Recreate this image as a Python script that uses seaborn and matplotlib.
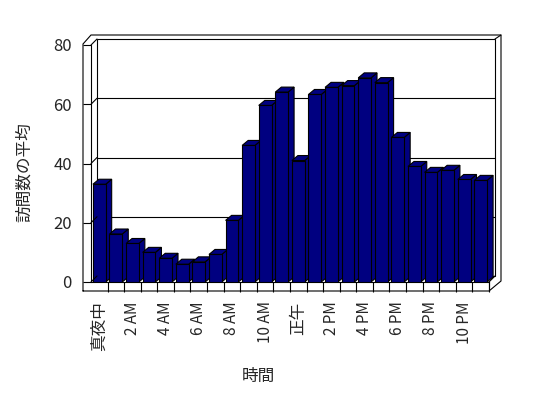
import numpy as np
import pandas as pd
import matplotlib
matplotlib.use("Agg")
import matplotlib.pyplot as plt
import seaborn as sns
from matplotlib.patches import Polygon, Rectangle
from matplotlib.lines import Line2D
from matplotlib.transforms import ScaledTranslation, IdentityTransform

# ---- data ----
hours = ["真夜中", "1 AM", "2 AM", "3 AM", "4 AM", "5 AM", "6 AM", "7 AM",
         "8 AM", "9 AM", "10 AM", "11 AM", "正午", "1 PM", "2 PM", "3 PM",
         "4 PM", "5 PM", "6 PM", "7 PM", "8 PM", "9 PM", "10 PM", "11 PM"]
visits = [33.0, 16.2, 13.0, 10.0, 8.0, 6.0, 6.8, 9.3,
          20.8, 46.1, 59.6, 64.1, 41.0, 63.3, 65.7, 66.3,
          68.9, 67.3, 48.8, 39.0, 37.0, 37.7, 34.6, 34.3]
yticks = [0, 20, 40, 60, 80]
xlabel = "時間"
ylabel = "訪問数の平均"

sns.set_style("white")
plt.rcParams["font.family"] = ["Noto Sans CJK JP", "DejaVu Sans"]

W, H = 548, 398
fig = plt.figure(figsize=(W / 100, H / 100), dpi=100)
fig.patch.set_facecolor("white")

AX_L, AX_R, AX_T, AX_B = 91, 489, 45, 282
ax = fig.add_axes([AX_L / W, 1 - AX_B / H, (AX_R - AX_L) / W, (AX_B - AX_T) / H])
ax.patch.set_visible(False)

df = pd.DataFrame({"hour": hours, "visits": visits})
NAVY = "#000080"
LW = 0.8
sns.barplot(data=df, x="hour", y="visits", order=hours, color=NAVY,
            saturation=1, width=0.77, edgecolor="black", linewidth=LW, ax=ax)
bars = list(ax.patches)
ax.set_xlim(-0.5, len(hours) - 0.5)
ax.set_ylim(yticks[0], yticks[-1])

def off(dx, dy):
    return ScaledTranslation(dx / 100, dy / 100, fig.dpi_scale_trans)

# back wall with gridlines (offset in depth)
back = ax.transData + off(6, 6)
ax.add_patch(Rectangle((-0.5, yticks[0]), len(hours), yticks[-1] - yticks[0],
                       transform=back, fc="white", ec="black", lw=LW,
                       zorder=0.5, clip_on=False))
ax.hlines(yticks[1:-1], -0.5, len(hours) - 0.5, transform=back,
          colors="black", lw=LW, zorder=0.6, clip_on=False)

# 3D faces of bars
p0 = ax.transData.transform((0, 0))
ppx = ax.transData.transform((1, 0))[0] - p0[0]
ppy = ax.transData.transform((0, 1))[1] - p0[1]
ddx, ddy = 6 / ppx, 5 / ppy
for i, p in enumerate(bars):
    x0, w, h = p.get_x(), p.get_width(), p.get_height()
    z = 3 + i * 0.01
    side = Polygon([(x0 + w, 0), (x0 + w, h), (x0 + w + ddx, h + ddy), (x0 + w + ddx, ddy)],
                   closed=True, fc=NAVY, ec="black", lw=LW, zorder=z, clip_on=False)
    top = Polygon([(x0, h), (x0 + w, h), (x0 + w + ddx, h + ddy), (x0 + ddx, h + ddy)],
                  closed=True, fc=NAVY, ec="black", lw=LW, zorder=z + 0.001, clip_on=False)
    ax.add_patch(side)
    ax.add_patch(top)
    p.set_zorder(z + 0.002)

# axes styling
for s in ["top", "right", "left"]:
    ax.spines[s].set_visible(False)
ax.spines["bottom"].set_color("black")
ax.spines["bottom"].set_linewidth(LW)
ax.spines["left"].set_position(("outward", 8 * 0.72))
ax.set_yticks(yticks)
ax.set_yticklabels([str(v) for v in yticks])
ax.tick_params(axis="y", direction="in", length=8 * 0.72, width=LW, pad=8,
               labelsize=12, color="black", left=True)
ax.set_xticks(range(0, len(hours), 2))
ax.set_xticklabels(hours[::2], rotation=90)
ax.set_xticks(np.arange(0.5, len(hours), 1), minor=True)
ax.tick_params(axis="x", which="major", length=0, pad=14, labelsize=11)
ax.tick_params(axis="x", which="minor", direction="out", length=9.5 * 0.72,
               width=LW, color="black", bottom=True)
for t in ax.get_xticklabels():
    if not t.get_text().isascii():
        t.set_fontsize(12)
ax.set_xlabel(xlabel, fontsize=12)
ax.set_ylabel(ylabel, fontsize=12)
ax.xaxis.set_label_coords((258 - AX_L) / (AX_R - AX_L), -(376 - AX_B) / (AX_B - AX_T))
ax.yaxis.set_label_coords((24 - AX_L) / (AX_R - AX_L), 1 - (172 - AX_T) / (AX_B - AX_T))
ax.xaxis.label.set_va("center")
ax.yaxis.label.set_va("center")

# frame decorations (walls & floor) in pixel coordinates
def P(x, y):
    return (x, H - y)

def seg(pts, z=5):
    xs = [P(*q)[0] for q in pts]
    ys = [P(*q)[1] for q in pts]
    fig.add_artist(Line2D(xs, ys, transform=IdentityTransform(), color="black",
                          lw=LW, zorder=z, solid_joinstyle="miter"))

# outer silhouette of walls and floor
seg([(83, 291), (83, 44), (91, 35), (501, 35), (501, 281), (489, 291), (83, 291)])
seg([(91, 45), (91, 282)])
seg([(495, 39), (501, 35)])
seg([(489, 282), (495, 276)])
seg([(489, 282), (489, 291)])
# left wall depth lines for each tick
for v in yticks:
    yd = ax.transData.transform((0, v))[1]
    seg([(91, H - yd), (97, H - yd - 6)])

fig.savefig("out.png", dpi=100)
